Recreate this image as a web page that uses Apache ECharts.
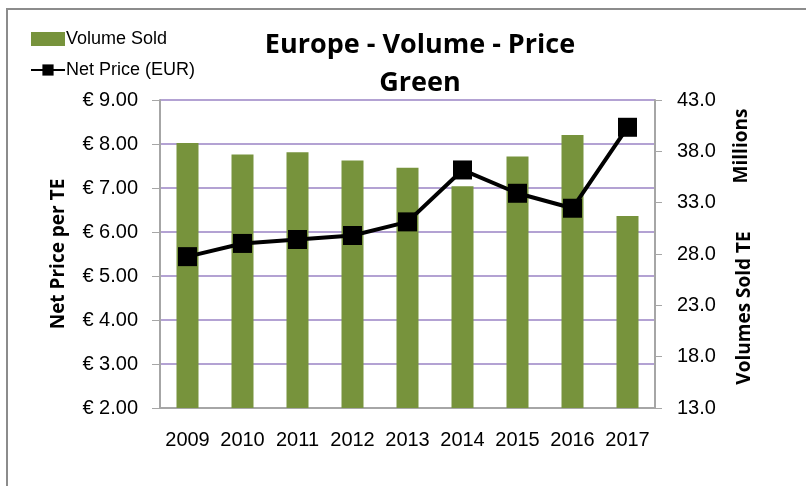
<!DOCTYPE html>
<html>
<head>
<meta charset="utf-8">
<script src="https://cdn.jsdelivr.net/npm/echarts@6/dist/echarts.min.js"></script>
<style>
  html, body { margin: 0; padding: 0; background: #fff; }
  #chart { width: 806px; height: 486px; }
</style>
</head>
<body>
<div id="chart"></div>
<script>
var years = ['2009', '2010', '2011', '2012', '2013', '2014', '2015', '2016', '2017'];
// volumes sold, millions TE (right axis)
var volumeSold = [38.8, 37.7, 37.9, 37.1, 36.4, 34.6, 37.5, 39.6, 31.7];
// net price per TE in EUR (left axis)
var netPrice = [5.44, 5.74, 5.83, 5.92, 6.23, 7.41, 6.88, 6.54, 8.38];

var font = "'Liberation Sans', sans-serif";
var boldFont = "'Open Sans', 'Liberation Sans', sans-serif";

var myChart = echarts.init(document.getElementById('chart'));

var option = {
    backgroundColor: '#fff',
    animation: false,
    title: [
        {
            text: 'Europe - Volume - Price',
            left: 415, top: 27,
            textAlign: 'center',
            textStyle: { fontFamily: boldFont, fontSize: 27, fontWeight: 'bold', color: '#000' }
        },
        {
            text: 'Green',
            left: 415, top: 65,
            textAlign: 'center',
            textStyle: { fontFamily: boldFont, fontSize: 27, fontWeight: 'bold', color: '#000' }
        }
    ],
    legend: {
        left: 25, top: 25,
        orient: 'vertical',
        itemGap: 13,
        itemWidth: 34, itemHeight: 14,
        textStyle: { fontFamily: font, fontSize: 18, color: '#000', padding: [0, 0, 0, -4] },
        data: [
            { name: 'Volume Sold', icon: 'rect' },
            { name: 'Net Price (EUR)' }
        ]
    },
    graphic: [
        {
            type: 'rect',
            shape: { x: 7, y: 9, width: 900, height: 600 },
            style: { fill: 'none', stroke: '#8c8c8c', lineWidth: 2 },
            silent: true
        },
        {
            type: 'text',
            x: 742, y: 146,
            rotation: Math.PI / 2,
            style: {
                text: 'Millions', fontFamily: boldFont, fontSize: 19, fontWeight: 'bold',
                fill: '#000', align: 'center', verticalAlign: 'middle'
            }
        }
    ],
    grid: { left: 160, right: 151, top: 100, bottom: 78 },
    xAxis: {
        type: 'category',
        data: years,
        axisLine: { lineStyle: { color: '#a6a6a6', width: 2 } },
        axisTick: { show: false },
        axisLabel: { fontFamily: font, fontSize: 20, color: '#000', margin: 22, interval: 0 }
    },
    yAxis: [
        {
            type: 'value',
            min: 2, max: 9, interval: 1,
            name: 'Net Price per TE',
            nameLocation: 'middle',
            nameGap: 92,
            nameTextStyle: { fontFamily: boldFont, fontSize: 19, fontWeight: 'bold', color: '#000' },
            axisLine: { show: true, lineStyle: { color: '#a6a6a6', width: 2 } },
            axisTick: { show: true, length: 8, lineStyle: { color: '#a6a6a6' } },
            axisLabel: {
                fontFamily: font, fontSize: 20, color: '#000', margin: 22,
                formatter: function (v) { return '€ ' + v.toFixed(2); }
            },
            splitLine: { lineStyle: { color: '#b3a2d3', width: 2 } }
        },
        {
            type: 'value',
            min: 13, max: 43, interval: 5,
            name: 'Volumes Sold TE',
            nameLocation: 'middle',
            nameGap: 80,
            nameRotate: 90,
            nameTextStyle: { fontFamily: boldFont, fontSize: 19, fontWeight: 'bold', color: '#000',
                             padding: [0, 0, 0, -108] },
            axisLine: { show: true, lineStyle: { color: '#a6a6a6', width: 2 } },
            axisTick: { show: true, length: 7, lineStyle: { color: '#a6a6a6' } },
            axisLabel: {
                fontFamily: font, fontSize: 20, color: '#000', margin: 22,
                formatter: function (v) { return v.toFixed(1); }
            },
            splitLine: { show: false }
        }
    ],
    series: [
        {
            name: 'Volume Sold',
            type: 'bar',
            yAxisIndex: 1,
            barWidth: 22,
            data: volumeSold,
            itemStyle: { color: '#77933c' }
        },
        {
            name: 'Net Price (EUR)',
            type: 'line',
            yAxisIndex: 0,
            data: netPrice,
            symbol: 'rect',
            symbolSize: 19,
            lineStyle: { color: '#000', width: 4 },
            itemStyle: { color: '#000' }
        }
    ]
};

myChart.setOption(option);

window.addEventListener('resize', function () {
    myChart.resize();
});
</script>
</body>
</html>
